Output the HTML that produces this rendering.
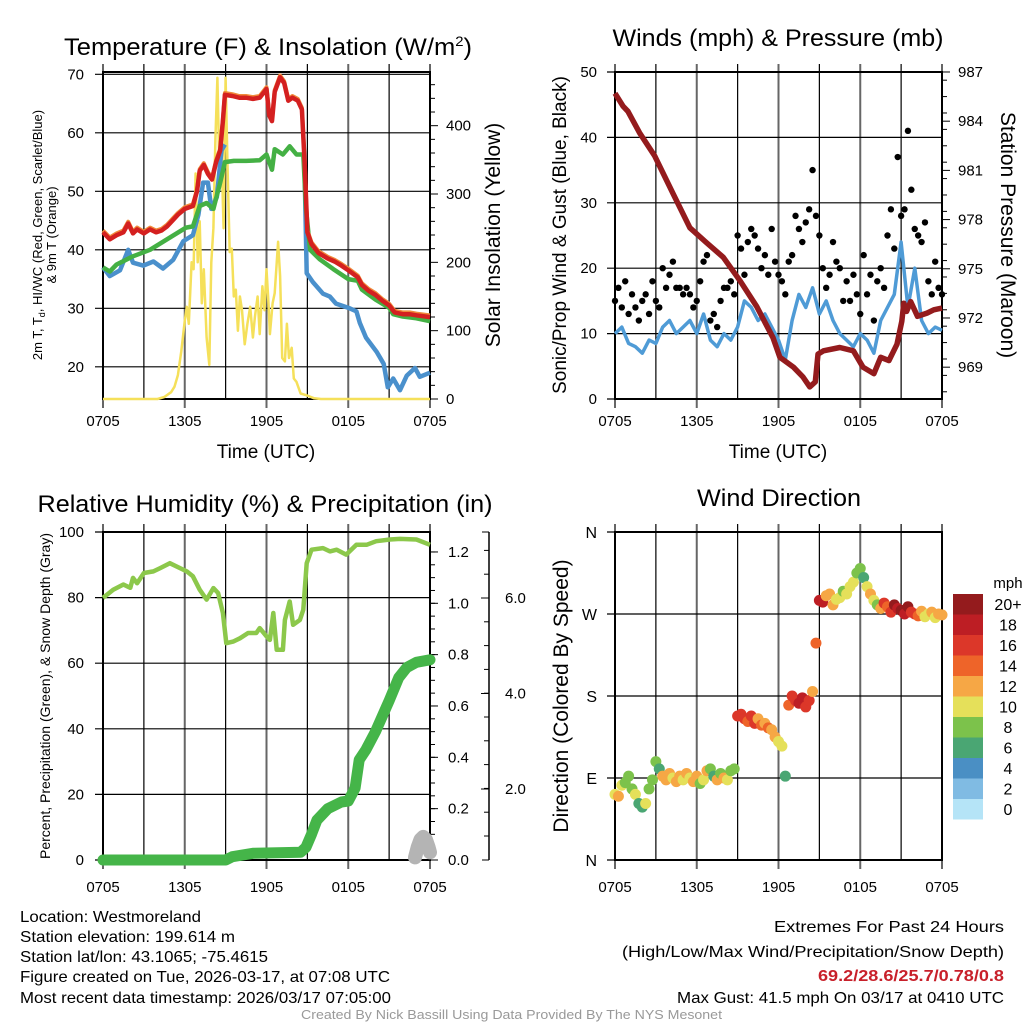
<!DOCTYPE html>
<html><head><meta charset="utf-8"><style>
html,body{margin:0;padding:0;background:#fff}
svg{display:block;font-family:"Liberation Sans",Arial,sans-serif}
</style></head><body>
<svg id="chart" width="1024" height="1024" viewBox="0 0 1024 1024" xmlns="http://www.w3.org/2000/svg">
<rect width="1024" height="1024" fill="#fff"/>
<text x="268" y="55" font-size="24" text-anchor="middle" textLength="408" lengthAdjust="spacingAndGlyphs">Temperature (F) &amp; Insolation (W/m<tspan font-size="14" dy="-9">2</tspan><tspan dy="9">)</tspan></text>
<text x="778" y="46" font-size="24" text-anchor="middle" textLength="331" lengthAdjust="spacingAndGlyphs">Winds (mph) &amp; Pressure (mb)</text>
<text x="265" y="512" font-size="24" text-anchor="middle" textLength="455" lengthAdjust="spacingAndGlyphs">Relative Humidity (%) &amp; Precipitation (in)</text>
<text x="779" y="506" font-size="24" text-anchor="middle" textLength="164" lengthAdjust="spacingAndGlyphs">Wind Direction</text>
<g font-size="16">
<text x="20" y="922" textLength="181" lengthAdjust="spacingAndGlyphs">Location: Westmoreland</text>
<text x="20" y="942" textLength="215" lengthAdjust="spacingAndGlyphs">Station elevation: 199.614 m</text>
<text x="20" y="962" textLength="248" lengthAdjust="spacingAndGlyphs">Station lat/lon: 43.1065; -75.4615</text>
<text x="20" y="982" textLength="370" lengthAdjust="spacingAndGlyphs">Figure created on Tue, 2026-03-17, at 07:08 UTC</text>
<text x="20" y="1003" textLength="371" lengthAdjust="spacingAndGlyphs">Most recent data timestamp: 2026/03/17 07:05:00</text>
</g>
<g font-size="16">
<text x="774" y="932" textLength="230" lengthAdjust="spacingAndGlyphs">Extremes For Past 24 Hours</text>
<text x="622" y="957" textLength="382" lengthAdjust="spacingAndGlyphs">(High/Low/Max Wind/Precipitation/Snow Depth)</text>
<text x="818" y="981" textLength="186" lengthAdjust="spacingAndGlyphs" font-weight="bold" fill="#c8202a">69.2/28.6/25.7/0.78/0.8</text>
<text x="677" y="1003" textLength="327" lengthAdjust="spacingAndGlyphs">Max Gust: 41.5 mph On 03/17 at 0410 UTC</text>
</g>
<text x="301" y="1019" font-size="13" fill="#999" textLength="421" lengthAdjust="spacingAndGlyphs">Created By Nick Bassill Using Data Provided By The NYS Mesonet</text>
</svg>
<script>
// ---------- Panel 1 data ----------
const redHours=[0,0.5,1,1.5,1.85,2.2,2.5,3,3.45,3.9,4.3,4.7,5.1,5.5,6,6.6,6.9,7.1,7.4,7.7,8.0,8.3,8.6,8.8,8.95,9.5,10,10.5,11,11.5,12,12.2,12.4,12.6,13,13.3,13.6,13.9,14.3,14.6,14.8,15,15.3,15.8,16.5,17,17.5,18,18.7,19,19.5,20,20.5,21,21.4,22,22.5,23,24];
const redTemp=[43,41.8,42.5,43,44.5,42.8,43.5,42.8,43.5,43,43.3,44,45,46,47,47.5,50,53.5,54.5,53,52,55,57,62,66.5,66.3,66,66,65.8,66,67.5,63,62,67,69.5,68.5,65.5,66,65.5,64,55,43,41,39.5,38.5,38,37.3,36.5,35.3,34,33,32.3,31.3,30.5,29.3,29,29,28.8,28.5];
const dewHours=[0,0.5,1,2.2,3.45,4.7,6.1,6.6,7.1,7.6,8.1,8.6,8.95,9.6,10.5,11.5,12,12.4,12.6,13.2,13.7,14.2,14.7,14.9,15.2,15.9,16.9,18,18.7,19,20,21,21.3,22,23,24];
const dewTemp=[37,36.3,37.5,38.9,40,41.8,43.8,44,47.5,48,47,51.5,55,55.2,55.2,55.3,56.3,53.7,57.2,56.3,57.7,56.3,56.3,47,40,38.4,36.7,35,34.7,33.2,31.5,30.1,29,28.6,28.3,27.8];
const chillHours=[0,0.5,1.25,1.85,2.2,2.95,3.7,4.4,5.15,5.9,6.6,7,7.35,7.7,7.95,8.35,8.7,8.95,null,14.8,14.95,15.4,16.15,16.65,17.1,18.1,18.6,18.85,19.3,20.1,20.6,20.9,21.3,21.8,22.3,22.9,23.25,24];
const chillTemp=[37,35.5,36.5,40,37.8,37.3,38,36.8,38.3,41.5,42.5,46,51.5,51.5,47,49,57,58,null,53.5,36,34.5,32.5,32,30.8,30,29.5,27.5,25,22.5,20.5,16.5,18,16,18.5,19.8,18.3,19];
const solarHours=[0,4,4.5,5,5.25,5.5,5.75,6,6.15,6.3,6.5,6.65,6.8,6.95,7.1,7.25,7.4,7.6,7.8,7.95,8.1,8.25,8.4,8.55,8.7,8.85,9,9.15,9.3,9.45,9.6,9.75,9.9,10.05,10.2,10.4,10.6,10.8,11,11.15,11.35,11.5,11.7,11.85,12,12.15,12.25,12.45,12.6,12.85,13,13.15,13.35,13.5,13.65,13.85,14,14.2,14.5,15,15.5,16,24];
const solarValues=[0,0,3,10,18,35,70,115,135,110,200,190,330,200,260,140,190,90,50,200,250,380,470,330,360,250,470,330,215,220,150,160,100,150,130,80,110,135,90,120,150,95,165,130,190,140,95,140,155,230,180,60,55,110,60,75,30,25,8,5,1,0,0];
const tempTicks=[20,30,40,50,60,70];
const solarTicks=[0,100,200,300,400];
const timeLabels=["0705","1305","1905","0105","0705"];
// ---------- Panel 2 data ----------
const presHours=[0,0.6,0.95,1.8,2.9,4.25,5.5,6.7,7.95,9.15,10.4,11.6,12.1,13.1,13.8,14.3,14.7,14.9,15.3,16.5,17.5,18.2,19,19.5,20.1,20.7,21.05,21.2,21.4,21.7,22.2,22.9,23.4,24];
const presValues=[985.7,984.9,984.6,983.3,981.9,979.6,977.5,976.6,975.7,974.3,972.7,970.8,969.6,969,968.4,967.8,968.1,969.8,970,970.2,970,969,968.6,969.6,969.4,970.4,971.8,972.9,972.4,973,972.1,972.3,972.5,972.6];
const windValues=[10,11,8.5,8,7,9,8.5,11,12,10,11,12,10,13,9,8,10,9,11,15,14,12,13,11,9,6,12,16,14,17,13,15,12,10,9,8,10,9,7,12,14,16,24,14,20,12,10,11,10.5];
const gustValues=[15,17,14,18,13,16,14,12,15,16,13,18,15,14,20,17,19,21,17,17,16,17,16,14,15,18,21,22,12,13,11,15,17,17,18,16,25,23,19,24,26,25,23,20,22,19,26,21,19,18,16,21,22,28,26,24,27,29,35,28,25,20,17,19,24,21,20,15,18,15,19,16,13,22,16,19,12,18,20,17,25,29,23,37,28,29,41,32,26,25,24,27,18,16,21,17,16];
const windTicks=[0,10,20,30,40,50];
const presTicks=[969,972,975,978,981,984,987];
// ---------- Panel 3 data ----------
const rhHours=[0,0.75,1.5,2,2.2,2.5,3,3.7,4.2,4.9,5.65,6.15,6.6,7.1,7.6,8.1,8.45,8.8,9.05,9.55,10.05,10.65,11.25,11.5,12,12.25,12.5,12.75,13.2,13.35,13.7,13.95,14.45,14.7,14.95,15.3,16.15,16.65,17.15,17.85,18.6,19.35,20.05,21.05,21.8,23,24];
const rhValues=[79.9,82.4,84,83,86,84.4,87.5,88,89,90.5,89,88,86.5,82.4,79.4,82.9,81.4,75.3,66.1,66.6,67.6,69.2,69.2,70.7,68.2,67.1,75.3,64.1,64.1,73.2,78.8,71.7,73.2,76.3,90.5,94.6,95.1,94.1,94.6,93.1,96.1,96.1,97.2,97.7,97.9,97.7,96.1];
const precipHours=[0,9,9.5,11,14.5,14.9,15.3,15.7,16.5,17.5,18,18.5,18.8,19.3,20,21,21.7,22.3,23,24];
const precipValues=[0,0,0.013,0.026,0.03,0.05,0.1,0.155,0.2,0.226,0.23,0.28,0.39,0.43,0.5,0.62,0.71,0.75,0.77,0.78];
const snowHours=[22.9,23.1,23.3,23.5,23.7,23.9,24];
const snowValues=[0.01,0.05,0.08,0.09,0.08,0.05,0.03];
const rhTicks=[0,20,40,60,80,100];
const precipTicks=[0,0.2,0.4,0.6,0.8,1.0,1.2];
const snowTicks=["2.0","4.0","6.0"];
// ---------- Panel 4 data ----------
const dirValues=[72,70,82,85,92,78,72,62,58,62,78,88,108,100,92,88,95,90,86,92,88,95,90,86,92,84,88,98,100,92,88,95,90,88,98,100,158,160,155,152,158,150,155,148,150,145,143,135,130,125,92,170,180,175,172,178,168,175,185,238,285,283,290,292,280,286,288,295,292,300,305,315,320,310,300,292,285,280,276,282,278,272,280,276,274,270,278,272,270,268,273,267,270,272,266,270,269];
const speedValues=[10,12,11,8,8,9,10,7,6,10,8,9,8,7,12,13,12,10,13,12,10,12,11,13,12,9,10,13,8,7,12,8,12,10,9,9,17,16,17,15,17,16,13,14,12,14,13,12,10,10,6,15,17,16,18,19,16,17,13,15,18,18,12,12,13,10,11,9,10,10,11,8,8,7,10,12,11,8,12,16,15,17,21,19,20,18,21,17,16,14,12,10,11,12,10,13,12];
const dirTicks=["N","E","S","W","N"];
const speedBins=["0","2","4","6","8","10","12","14","16","18","20+"];
const speedColors=["#b5e4f7","#80bbe3","#4a8fc4","#4aa673","#7cc24b","#e5e05a","#f6a745","#ee6429","#dc3729","#bd1e24","#941b1d"];

const NS="http://www.w3.org/2000/svg";
const svg=document.getElementById('chart');
function el(tag,attrs,parent){const e=document.createElementNS(NS,tag);for(const k in attrs)e.setAttribute(k,attrs[k]);(parent||svg).appendChild(e);return e;}
function txt(x,y,s,size,anchor,parent,rot){const t=el('text',{x:x,y:y,'font-size':size,'text-anchor':anchor||'start'},parent);if(rot)t.setAttribute('transform','rotate('+rot+' '+x+' '+y+')');t.textContent=s;return t;}
function pathFrom(hs,vs,X,Y){let d='',pen=false;for(let i=0;i<hs.length;i++){if(hs[i]===null||vs[i]===null){pen=false;continue;}d+=(pen?'L':'M')+X(hs[i]).toFixed(1)+' '+Y(vs[i]).toFixed(1);pen=true;}return d;}

function frame(g,L,T,R,B,gridYs){
  for(let i=0;i<=8;i++){const x=L+i*(R-L)/8;
    const l=el('line',{x1:x,y1:T-8,x2:x,y2:B+(i%2==0?9:0),stroke:i%2==0?'#666':'#000','stroke-width':i%2==0?2:1.2},g);
    }
  gridYs.forEach(y=>{const l=el('line',{x1:L-8,y1:y,x2:R,y2:y,stroke:'#000','stroke-width':1.2},g);
    });
  const r=el('rect',{x:L,y:T,width:R-L,height:B-T,fill:'none',stroke:'#000','stroke-width':2},g);
  
}
function timeAxis(g,L,R,y){timeLabels.forEach((s,i)=>{const t=txt(L+i*(R-L)/4,y,s,15,'middle',g);
  });}

// ===== Panel 1 =====
(function(){
 const g=el('g',{});
 const L=103,R=430,T=72,B=399;
 const X=h=>L+h*(R-L)/24, YT=v=>B-(v-14.5)*5.85, YI=v=>B-v*0.6833;
 frame(g,L,T,R,B,tempTicks.map(YT));
 tempTicks.forEach(v=>{const t=txt(84,YT(v)+5,String(v),15,'end',g);});
 for(let v=0;v<=470;v+=20){el('line',{x1:R,y1:YI(v),x2:R+(v%100==0?8:5),y2:YI(v),stroke:'#000','stroke-width':1},g);}
 solarTicks.forEach(v=>{const t=txt(446,YI(v)+5,String(v),15,'start',g);});
 timeAxis(g,L,R,426);
 let t=txt(266,458,'Time (UTC)',19,'middle',g);
 t=txt(500,235,'Solar Insolation (Yellow)',21,'middle',g,-90);
 t=el('text',{x:42,y:235,'font-size':13,'text-anchor':'middle',transform:'rotate(-90 42 235)'},g);
 t.innerHTML='2m T, T<tspan font-size="9" dy="3">d</tspan><tspan dy="-3">, HI/WC (Red, Green, Scarlet/Blue)</tspan>';
 
 t=txt(56,235,'& 9m T (Orange)',13,'middle',g,-90);
 let p=el('path',{d:pathFrom(solarHours,solarValues,X,YI),fill:'none',stroke:'#f5e05a','stroke-width':2.5,'stroke-linejoin':'round'},g);
 
 p=el('path',{d:pathFrom(chillHours,chillTemp,X,YT),fill:'none',stroke:'#4a90cc','stroke-width':4.5,'stroke-linejoin':'round'},g);
 
 p=el('path',{d:pathFrom(dewHours,dewTemp,X,YT),fill:'none',stroke:'#44b044','stroke-width':4.5,'stroke-linejoin':'round'},g);
 
 p=el('path',{d:pathFrom(redHours,redTemp.map(v=>v+0.3),X,YT),fill:'none',stroke:'#f08a3a','stroke-width':4,'stroke-linejoin':'round'},g);
 
 p=el('path',{d:pathFrom(redHours,redTemp,X,YT),fill:'none',stroke:'#d42020','stroke-width':4.5,'stroke-linejoin':'round'},g);
 
})();

// ===== Panel 2 =====
(function(){
 const g=el('g',{});
 const L=615,R=942,T=72,B=399;
 const X=h=>L+h*(R-L)/24, YW=v=>B-v*6.54, YP=p=>B-(p-967.06)*16.4;
 frame(g,L,T,R,B,windTicks.map(YW));
 windTicks.forEach(v=>{const t=txt(597,YW(v)+5,String(v),15,'end',g);});
 for(let v=967.5;v<=987;v+=1){el('line',{x1:R,y1:YP(v),x2:R+5,y2:YP(v),stroke:'#000','stroke-width':1},g);}
 presTicks.forEach(v=>{el('line',{x1:R,y1:YP(v),x2:R+8,y2:YP(v),stroke:'#000'},g);const t=txt(958,YP(v)+5,String(v),15,'start',g);});
 timeAxis(g,L,R,426);
 let t=txt(778,458,'Time (UTC)',19,'middle',g);
 t=txt(566,235,'Sonic/Prop Wind & Gust (Blue, Black)',19,'middle',g,-90);
 t=txt(1001,235,'Station Pressure (Maroon)',21,'middle',g,90);
 const wh=windValues.map((v,i)=>i*24/(windValues.length-1));
 let p=el('path',{d:pathFrom(wh,windValues,X,YW),fill:'none',stroke:'#4f9bd6','stroke-width':3.5,'stroke-linejoin':'round'},g);
 
 gustValues.forEach((v,i)=>{const c=el('circle',{cx:X(i*24/(gustValues.length-1)),cy:YW(v),r:3.2,fill:'#000'},g);
  });
 p=el('path',{d:pathFrom(presHours,presValues,X,YP),fill:'none',stroke:'#941b1d','stroke-width':5.5,'stroke-linejoin':'round'},g);
 
})();

// ===== Panel 3 =====
(function(){
 const g=el('g',{});
 const L=103,R=430,T=532,B=860;
 const X=h=>L+h*(R-L)/24, YR=v=>B-v*3.28, YPr=v=>B-v*256.7;
 frame(g,L,T,R,B,rhTicks.map(YR));
 rhTicks.forEach(v=>{const t=txt(84,YR(v)+5,String(v),15,'end',g);});
 for(let v=0;v<=1.25;v+=0.05){el('line',{x1:R,y1:YPr(v),x2:R+5,y2:YPr(v),stroke:'#000','stroke-width':1},g);}
 precipTicks.forEach(v=>{el('line',{x1:R,y1:YPr(v),x2:R+8,y2:YPr(v),stroke:'#000'},g);const t=txt(448,YPr(v)+5,v.toFixed(1),15,'start',g);});
 const ax=el('line',{x1:489,y1:T,x2:489,y2:B,stroke:'#000','stroke-width':1.5},g);
 for(let y=B-24;y>T;y-=23.8){el('line',{x1:489,y1:y,x2:484,y2:y,stroke:'#000'},g);}
 snowTicks.forEach((s,i)=>{const y=789-i*95.5;el('line',{x1:489,y1:y,x2:481,y2:y,stroke:'#000'},g);const t=txt(505,y+5,s,15,'start',g);});
 el('line',{x1:489,y1:B,x2:482,y2:B,stroke:'#000'},g);el('line',{x1:489,y1:T,x2:482,y2:T,stroke:'#000'},g);
 timeAxis(g,L,R,892);
 let t=txt(50,696,'Percent, Precipitation (Green), & Snow Depth (Gray)',14,'middle',g,-90);
 let p=el('path',{d:pathFrom(rhHours,rhValues,X,YR),fill:'none',stroke:'#8cc84b','stroke-width':4.5,'stroke-linejoin':'round'},g);
 
 p=el('path',{d:pathFrom(precipHours,precipValues,X,YPr),fill:'none',stroke:'#45b549','stroke-width':11,'stroke-linejoin':'round','stroke-linecap':'round'},g);
 
 p=el('path',{d:pathFrom(snowHours,snowValues,X,YPr),fill:'none',stroke:'#b4b4b4','stroke-width':14,'stroke-linejoin':'round','stroke-linecap':'round'},g);
 
})();

// ===== Panel 4 =====
(function(){
 const g=el('g',{});
 const L=615,R=942,T=532,B=860;
 const X=h=>L+h*(R-L)/24, YD=d=>B-d*(B-T)/360;
 frame(g,L,T,R,B,[0,90,180,270,360].map(YD));
 dirTicks.forEach((s,i)=>{const t=txt(597,YD(i*90)+6,s,16,'end',g);});
 timeAxis(g,L,R,892);
 let t=txt(568,696,'Direction (Colored By Speed)',21,'middle',g,-90);
 const col=s=>speedColors[Math.max(0,Math.min(10,Math.floor(s/2)))];
 dirValues.forEach((d,i)=>{const c=el('circle',{cx:X(i*24/(dirValues.length-1)),cy:YD(d),r:5.5,fill:col(speedValues[i])},g);
  });
 const cb=el('g',{},g);
 speedBins.forEach((s,i)=>{const y=799-i*20.5;
  const r=el('rect',{x:953,y:y,width:30,height:20.5,fill:speedColors[i]},cb);
  const tt=txt(1008,y+16,s,16,'middle',cb);});
 t=txt(1008,588,'mph',15,'middle',cb);
})();
</script>
</body></html>
